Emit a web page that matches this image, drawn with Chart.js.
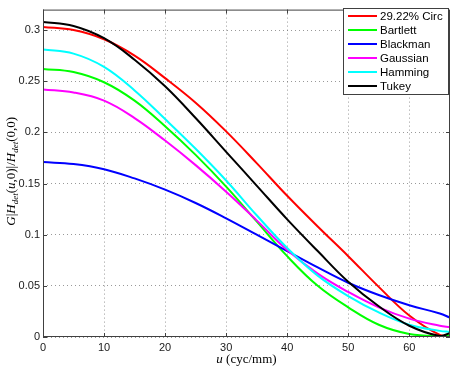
<!DOCTYPE html>
<html>
<head>
<meta charset="utf-8">
<script src="https://cdn.jsdelivr.net/npm/chart.js@4.4.1/dist/chart.umd.min.js"></script>
<style>
  html, body { margin: 0; padding: 0; background: #fff; }
</style>
</head>
<body>
<canvas id="chart" width="454" height="370"></canvas>
<script>
// spatial frequency u (cyc/mm)
const uValues = [0, 5, 10, 15, 20, 25, 30, 35, 40, 45, 50, 55, 60, 65, 66.67];

// G|Hdet(u,0)|/Hdet(0,0)
const circ     = [0.303, 0.300, 0.291, 0.275, 0.253, 0.229, 0.201, 0.170, 0.138, 0.108, 0.079, 0.049, 0.021, 0.002, 0.002];
const bartlett = [0.262, 0.259, 0.249, 0.231, 0.206, 0.178, 0.147, 0.113, 0.079, 0.050, 0.029, 0.012, 0.003, 0.001, 0.002];
const blackman = [0.171, 0.169, 0.164, 0.155, 0.144, 0.131, 0.116, 0.100, 0.084, 0.068, 0.053, 0.041, 0.031, 0.023, 0.019];
const gaussian = [0.242, 0.239, 0.231, 0.214, 0.192, 0.168, 0.142, 0.114, 0.085, 0.062, 0.044, 0.029, 0.018, 0.011, 0.0096];
const hamming  = [0.281, 0.277, 0.264, 0.241, 0.213, 0.184, 0.153, 0.119, 0.087, 0.060, 0.040, 0.024, 0.012, 0.006, 0.005];
const tukey    = [0.308, 0.304, 0.292, 0.271, 0.245, 0.214, 0.181, 0.148, 0.115, 0.084, 0.054, 0.030, 0.011, 0.001, 0.004];

const seriesLabels = ['29.22% Circ', 'Bartlett', 'Blackman', 'Gaussian', 'Hamming', 'Tukey'];
const seriesValues = [circ, bartlett, blackman, gaussian, hamming, tukey];
const seriesColors = ['#ff0000', '#00ff00', '#0000ff', '#ff00ff', '#00ffff', '#000000'];

const xTicks = [0, 10, 20, 30, 40, 50, 60];
const yTicks = [0, 0.05, 0.1, 0.15, 0.2, 0.25, 0.3];

const AXIS_COLOR = '#404040';

// draws text made of pieces with their own font / vertical shift
function drawPieces(ctx, pieces, cx, cy) {
  let total = 0;
  pieces.forEach(p => { ctx.font = p.font; total += ctx.measureText(p.t).width; });
  let x = cx - total / 2;
  pieces.forEach(p => {
    ctx.font = p.font;
    ctx.fillText(p.t, x, cy + (p.dy || 0));
    x += ctx.measureText(p.t).width;
  });
}

const matlabFrame = {
  id: 'matlabFrame',
  afterDraw(chart) {
    const ctx = chart.ctx;
    const a = chart.chartArea;
    const xs = chart.scales.x;
    const ys = chart.scales.y;
    ctx.save();

    // box + inward ticks
    ctx.strokeStyle = AXIS_COLOR;
    ctx.lineWidth = 1;
    ctx.strokeRect(a.left + 0.5, a.top + 0.5, a.right - a.left - 1, a.bottom - a.top - 1);
    ctx.beginPath();
    xTicks.forEach(v => {
      const px = Math.round(xs.getPixelForValue(v)) + 0.5;
      ctx.moveTo(px, a.bottom); ctx.lineTo(px, a.bottom - 4);
      ctx.moveTo(px, a.top); ctx.lineTo(px, a.top + 4);
    });
    yTicks.forEach(v => {
      const py = Math.round(ys.getPixelForValue(v)) + 0.5;
      ctx.moveTo(a.left, py); ctx.lineTo(a.left + 4, py);
      ctx.moveTo(a.right, py); ctx.lineTo(a.right - 4, py);
    });
    ctx.stroke();

    // axis titles
    ctx.fillStyle = '#000';
    ctx.textBaseline = 'alphabetic';
    const it = 'italic 13px "Liberation Serif", "DejaVu Serif", serif';
    const rm = '13px "Liberation Serif", "DejaVu Serif", serif';
    const sub = 'italic 9px "Liberation Serif", "DejaVu Serif", serif';
    drawPieces(ctx, [
      { t: 'u', font: it },
      { t: ' (cyc/mm)', font: rm }
    ], (a.left + a.right) / 2, 363);

    ctx.save();
    ctx.translate(15, (a.top + a.bottom) / 2 - 2);
    ctx.rotate(-Math.PI / 2);
    drawPieces(ctx, [
      { t: 'G', font: it }, { t: '|', font: rm }, { t: 'H', font: it },
      { t: 'det', font: sub, dy: 3 },
      { t: '(', font: rm }, { t: 'u', font: it }, { t: ',0)|/', font: rm },
      { t: 'H', font: it }, { t: 'det', font: sub, dy: 3 },
      { t: '(0,0)', font: rm }
    ], 0, 0);
    ctx.restore();

    // legend box
    const bx = 343, by = 8, bw = 105, bh = 86;
    ctx.fillStyle = '#fff';
    ctx.fillRect(bx, by, bw, bh);
    ctx.strokeStyle = AXIS_COLOR;
    ctx.strokeRect(bx + 0.5, by + 0.5, bw, bh);
    ctx.font = '11.5px "Liberation Sans", Arial, sans-serif';
    ctx.textBaseline = 'middle';
    chart.data.datasets.forEach((ds, i) => {
      const y = by + 8 + i * 14;
      ctx.strokeStyle = ds.borderColor;
      ctx.lineWidth = 2;
      ctx.beginPath();
      ctx.moveTo(bx + 5, y); ctx.lineTo(bx + 34, y);
      ctx.stroke();
      ctx.fillStyle = '#000';
      ctx.fillText(ds.label, bx + 37, y + 0.5);
    });
    ctx.restore();
  }
};

new Chart(document.getElementById('chart'), {
  type: 'line',
  data: {
    datasets: seriesLabels.map((label, i) => ({
      label: label,
      data: uValues.map((u, k) => ({ x: u, y: seriesValues[i][k] })),
      borderColor: seriesColors[i],
      borderWidth: 2,
      pointRadius: 0,
      fill: false,
      tension: 0.4,
      order: seriesLabels.length - i
    }))
  },
  options: {
    responsive: false,
    animation: false,
    devicePixelRatio: 1,
    layout: { padding: { top: 3, right: 4, left: 0, bottom: 0 } },
    plugins: {
      legend: { display: false },
      tooltip: { enabled: false }
    },
    scales: {
      x: {
        type: 'linear',
        min: 0,
        max: 66.67,
        afterBuildTicks: s => { s.ticks = xTicks.map(v => ({ value: v })); },
        afterFit: s => { s.height = 33; },
        grid: { color: 'rgba(110,110,110,0.7)', drawTicks: false },
        border: { display: false, dash: [1, 3] },
        ticks: {
          padding: 4,
          color: '#1a1a1a',
          font: { family: '"Liberation Sans", Arial, sans-serif', size: 11 },
          maxRotation: 0
        }
      },
      y: {
        type: 'linear',
        min: 0,
        max: 0.32,
        afterBuildTicks: s => { s.ticks = yTicks.map(v => ({ value: v })); },
        afterFit: s => { s.width = 43; },
        grid: { color: 'rgba(110,110,110,0.7)', drawTicks: false },
        border: { display: false, dash: [1, 3] },
        ticks: {
          padding: 3,
          color: '#1a1a1a',
          font: { family: '"Liberation Sans", Arial, sans-serif', size: 11 },
          callback: v => String(v)
        }
      }
    }
  },
  plugins: [matlabFrame]
});
</script>
</body>
</html>
